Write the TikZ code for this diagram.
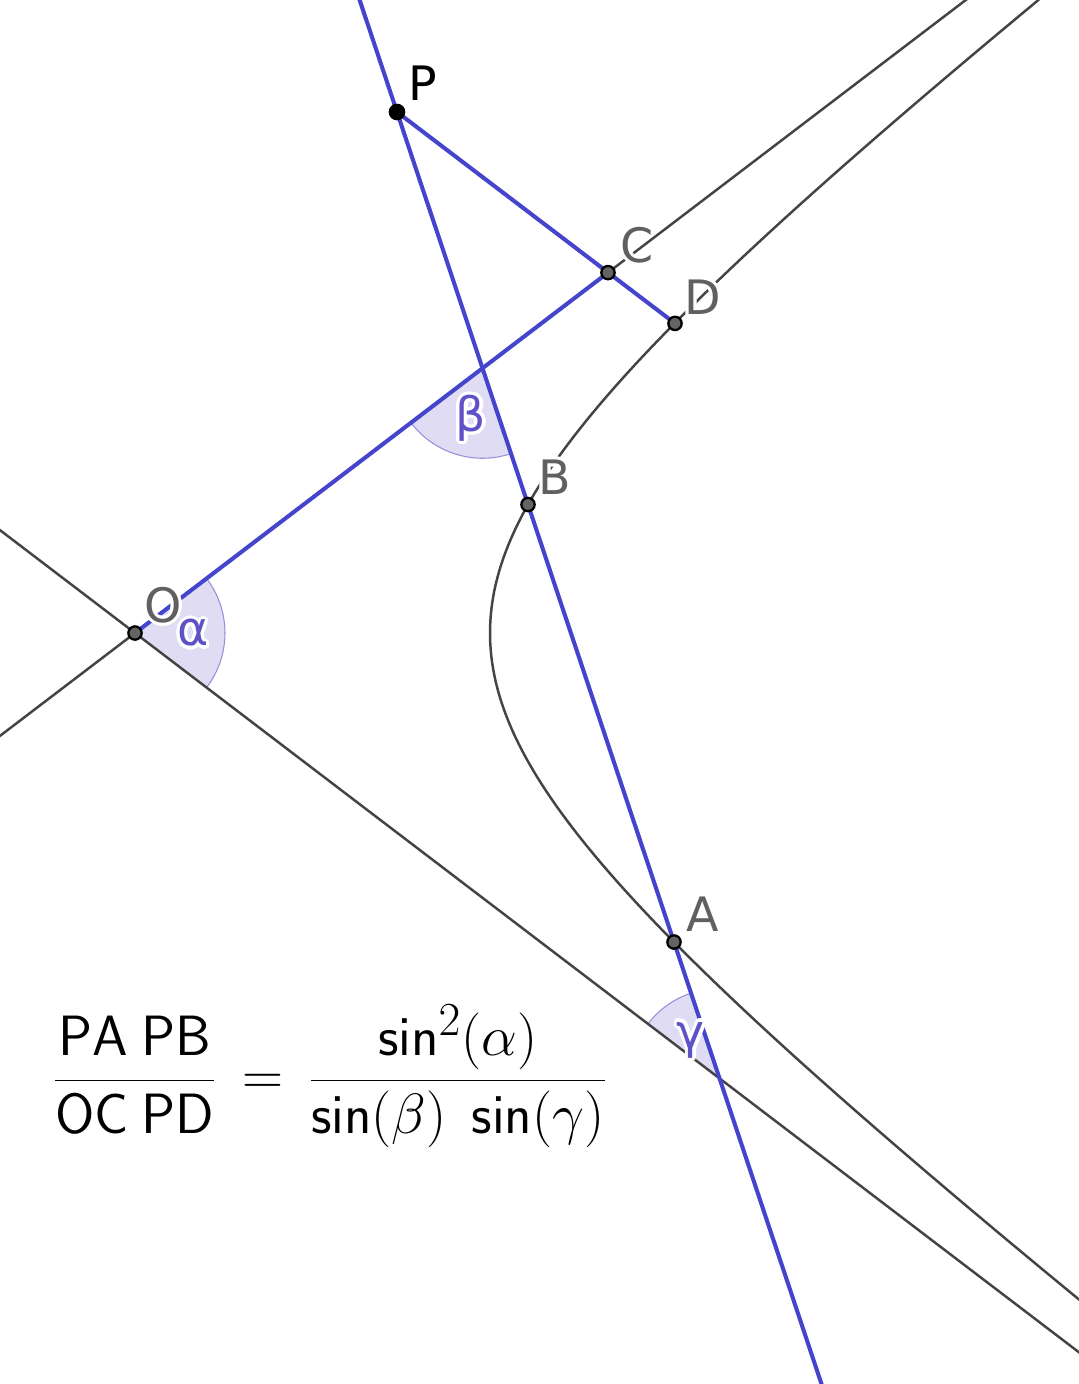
\documentclass[tikz,border=0pt]{standalone}
\usepackage{fontspec}
\newfontfamily\lblfont{DejaVu Sans}
\usetikzlibrary{calc}
\definecolor{blueline}{RGB}{68,68,204}
\definecolor{grayline}{RGB}{68,68,68}
\definecolor{ptgray}{RGB}{100,100,100}
\definecolor{lblgray}{RGB}{96,96,96}
\definecolor{anglecol}{RGB}{95,82,200}
\newcommand{\halolbl}[4]{%
  \foreach \hang in {0,22.5,...,337.5}{\node[lbl,text=white] at ([shift={(\hang:1.8pt)}]#2) {#4};}
  \node[lbl,text=#3] (#1) at (#2) {#4};}
\begin{document}
\begin{tikzpicture}[x=0.02cm,y=0.02cm,
  gline/.style={draw=grayline,line width=1.4pt},
  bline/.style={draw=blueline,line width=2.3pt},
  sector/.style={fill=anglecol,fill opacity=0.2},
  sectorarc/.style={draw=anglecol,draw opacity=0.6,line width=0.6pt},
  dpt/.style={circle,fill=ptgray,draw=black,line width=1.3pt,minimum size=7.6pt,inner sep=0pt},
  ppt/.style={circle,fill=black,minimum size=9.5pt,inner sep=0pt},
  lbl/.style={font=\lblfont\fontsize{27}{31}\selectfont,inner sep=0pt}]
\useasboundingbox (0,0) rectangle (1079,-1384);
\clip (0,0) rectangle (1079,-1384);
\fill[white] (0,0) rectangle (1079,-1384);
% key points
\coordinate (O) at (135,-633);
\coordinate (P) at (397,-112);
\coordinate (A) at (674,-942);
\coordinate (B) at (528,-504.5);
\coordinate (C) at (608,-272.6);
\coordinate (D) at (675,-323.4);
\coordinate (Q) at (1079,-1352.3);
\coordinate (X1) at (intersection of P--A and O--C);
\coordinate (X2) at (intersection of P--A and O--Q);
% angle sectors
\fill[sector] (O) -- ++(-37.3:90) arc[start angle=-37.3,end angle=37.3,radius=90] -- cycle;
\draw[sectorarc] ($(O)+(-37.3:90)$) arc[start angle=-37.3,end angle=37.3,radius=90];
\fill[sector] (X1) -- ++(217.3:90) arc[start angle=217.3,end angle=288.45,radius=90] -- cycle;
\draw[sectorarc] ($(X1)+(217.3:90)$) arc[start angle=217.3,end angle=288.45,radius=90];
\fill[sector] (X2) -- ++(108.45:90) arc[start angle=108.45,end angle=142.7,radius=90] -- cycle;
\draw[sectorarc] ($(X2)+(108.45:90)$) arc[start angle=108.45,end angle=142.7,radius=90];
% asymptotes and hyperbola
\draw[gline] ($(O)!-2!(C)$) -- ($(O)!3!(C)$);
\draw[gline] ($(O)!-1!(Q)$) -- ($(O)!1.2!(Q)$);
\draw[gline] plot[domain=-1.62:1.68,samples=300,smooth] ({135+355*cosh(\x)},{-(633+270.5*sinh(\x))});
% blue lines
\draw[bline] ($(P)!-0.2!(A)$) -- ($(P)!1.6!(A)$);
\draw[bline] (O) -- (C);
\draw[bline] (P) -- (D);
% points
\node[dpt] (nO) at (O) {};
\node[dpt] (nC) at (C) {};
\node[dpt] (nD) at (D) {};
\node[dpt] (nB) at (B) {};
\node[dpt] (nA) at (A) {};
\node[ppt] (nP) at (P) {};
% labels
\halolbl{lP}{423,-83}{black}{P}
\halolbl{lO}{163,-605}{lblgray}{O}
\halolbl{lC}{637,-245}{lblgray}{C}
\halolbl{lD}{703,-297}{lblgray}{D}
\halolbl{lB}{555,-477}{lblgray}{B}
\halolbl{lA}{703,-914}{lblgray}{A}
\halolbl{la}{193,-633}{anglecol}{α}
\halolbl{lb}{471,-418}{anglecol}{β}
\halolbl{lg}{691,-1040}{anglecol}{γ}
% formula
\node[inner sep=0pt,scale=1.30,font=\Huge] (formula) at (330,-1076)
  {$\displaystyle \frac{\mathsf{PA\:PB}}{\mathsf{OC\:PD}} \,=\, \frac{\mathsf{sin}^2(\alpha)}{\mathsf{sin}(\beta)\;\,\mathsf{sin}(\gamma)}$};
\end{tikzpicture}
\end{document}
